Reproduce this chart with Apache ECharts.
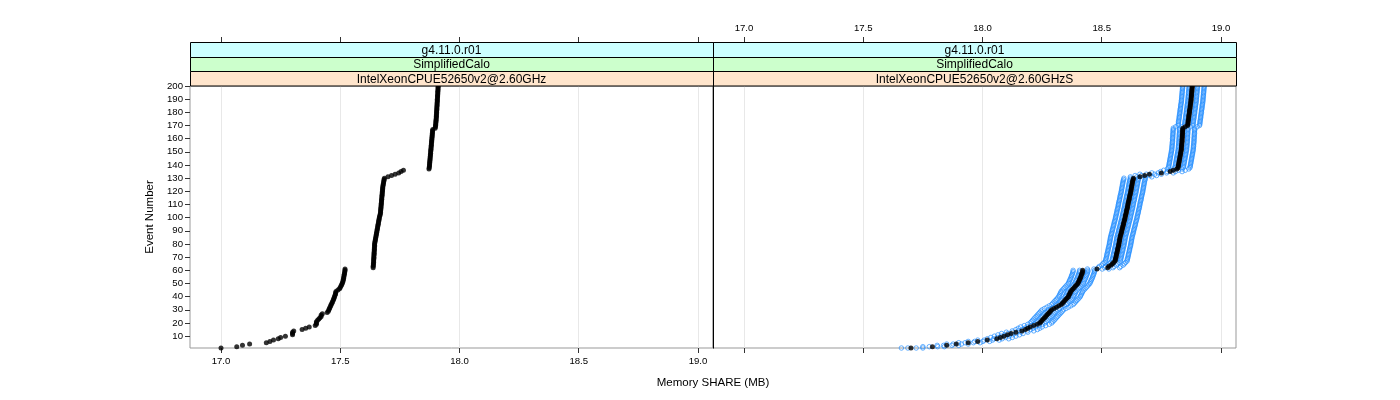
<!DOCTYPE html>
<html><head><meta charset="utf-8">
<script src="https://cdn.jsdelivr.net/npm/echarts@6/dist/echarts.min.js"></script>
<style>html,body{margin:0;padding:0;background:#fff}#c{width:1400px;height:400px}</style>
</head><body><div id="c"></div>
<script>
// ---- data ----
const xTicks = [17.0, 17.5, 18.0, 18.5, 19.0];
const yTicks = [10, 20, 30, 40, 50, 60, 70, 80, 90, 100, 110, 120, 130, 140, 150, 160, 170, 180, 190, 200];
const stripTop = 'g4.11.0.r01';
const stripMid = 'SimplifiedCalo';
const panelHosts = ['IntelXeonCPUE52650v2@2.60GHz', 'IntelXeonCPUE52650v2@2.60GHzS'];

// Memory SHARE (MB) per event (event number = position + 1)
const leftShare = [
17.000,17.066,17.090,17.120,17.190,17.205,17.220,17.240,17.250,17.270,17.300,17.300,17.300,17.305,17.340,17.355,17.370,17.395,17.400,17.400,
17.400,17.405,17.410,17.415,17.420,17.420,17.425,17.445,17.450,17.452,17.455,17.457,17.460,17.462,17.465,17.467,17.470,17.472,17.474,17.476,
17.478,17.480,17.481,17.482,17.490,17.497,17.500,17.503,17.506,17.508,17.510,17.512,17.513,17.514,17.515,17.516,17.517,17.518,17.519,17.520,
17.520,17.638,17.638,17.639,17.639,17.640,17.640,17.640,17.641,17.641,17.641,17.642,17.642,17.642,17.643,17.643,17.643,17.644,17.644,17.644,
17.645,17.646,17.647,17.648,17.649,17.650,17.651,17.652,17.653,17.654,17.655,17.656,17.657,17.658,17.659,17.660,17.661,17.662,17.663,17.664,
17.665,17.667,17.668,17.669,17.669,17.670,17.670,17.671,17.671,17.672,17.672,17.673,17.673,17.674,17.674,17.675,17.675,17.676,17.676,17.677,
17.677,17.678,17.678,17.679,17.680,17.681,17.682,17.683,17.684,17.685,17.700,17.715,17.730,17.745,17.755,17.765,17.872,17.873,17.874,17.874,
17.875,17.875,17.876,17.876,17.877,17.877,17.878,17.878,17.879,17.879,17.880,17.880,17.881,17.881,17.882,17.882,17.883,17.883,17.884,17.884,
17.885,17.885,17.886,17.886,17.887,17.887,17.888,17.898,17.899,17.900,17.900,17.901,17.901,17.902,17.902,17.903,17.903,17.903,17.904,17.904,
17.904,17.905,17.905,17.905,17.906,17.906,17.906,17.907,17.907,17.907,17.908,17.908,17.908,17.909,17.909,17.909,17.910,17.910,17.910,17.911];

const rightShare = [
17.700,17.790,17.850,17.890,17.940,17.980,18.020,18.060,18.075,18.090,18.105,18.120,18.140,18.165,18.180,18.190,18.200,18.215,18.230,18.240,
18.245,18.250,18.255,18.260,18.265,18.270,18.275,18.280,18.285,18.290,18.300,18.310,18.320,18.330,18.335,18.340,18.345,18.350,18.355,18.360,
18.362,18.365,18.368,18.370,18.375,18.380,18.385,18.390,18.395,18.400,18.402,18.405,18.407,18.410,18.412,18.414,18.416,18.418,18.420,18.420,
18.480,18.525,18.530,18.540,18.545,18.550,18.556,18.557,18.558,18.560,18.561,18.562,18.563,18.565,18.566,18.567,18.568,18.570,18.571,18.572,
18.573,18.574,18.575,18.576,18.577,18.578,18.580,18.581,18.583,18.584,18.585,18.587,18.588,18.590,18.591,18.592,18.594,18.595,18.597,18.598,
18.599,18.600,18.602,18.603,18.604,18.605,18.607,18.608,18.609,18.610,18.611,18.612,18.614,18.615,18.616,18.617,18.618,18.620,18.621,18.622,
18.623,18.624,18.625,18.626,18.627,18.628,18.629,18.630,18.632,18.633,18.660,18.680,18.700,18.750,18.787,18.800,18.815,18.820,18.821,18.822,
18.823,18.824,18.825,18.826,18.827,18.828,18.829,18.830,18.831,18.832,18.833,18.834,18.834,18.835,18.835,18.836,18.836,18.837,18.837,18.837,
18.838,18.838,18.838,18.839,18.839,18.839,18.840,18.840,18.850,18.860,18.861,18.862,18.862,18.863,18.864,18.865,18.865,18.866,18.867,18.868,
18.868,18.869,18.870,18.871,18.871,18.872,18.873,18.874,18.874,18.875,18.875,18.876,18.876,18.877,18.877,18.878,18.878,18.879,18.879,18.880];

// repeated runs (blue open circles)
const runA = [
17.660,17.750,17.810,17.850,17.900,17.940,17.980,18.020,18.035,18.050,18.065,18.080,18.100,18.125,18.140,18.150,18.160,18.175,18.190,18.200,
18.205,18.210,18.215,18.220,18.225,18.230,18.235,18.240,18.245,18.250,18.260,18.270,18.280,18.290,18.295,18.300,18.305,18.310,18.315,18.320,
18.322,18.325,18.328,18.330,18.335,18.340,18.345,18.350,18.355,18.360,18.362,18.365,18.367,18.370,18.372,18.374,18.376,18.378,18.380,18.380,
18.440,18.485,18.490,18.500,18.505,18.510,18.516,18.517,18.518,18.520,18.521,18.522,18.523,18.525,18.526,18.527,18.528,18.530,18.531,18.532,
18.533,18.534,18.535,18.536,18.537,18.538,18.540,18.541,18.543,18.544,18.545,18.547,18.548,18.550,18.551,18.552,18.554,18.555,18.557,18.558,
18.559,18.560,18.562,18.563,18.564,18.565,18.567,18.568,18.569,18.570,18.571,18.572,18.574,18.575,18.576,18.577,18.578,18.580,18.581,18.582,
18.583,18.584,18.585,18.586,18.587,18.588,18.589,18.590,18.592,18.593,18.620,18.640,18.660,18.710,18.747,18.760,18.775,18.780,18.781,18.782,
18.783,18.784,18.785,18.786,18.787,18.788,18.789,18.790,18.791,18.792,18.793,18.794,18.794,18.795,18.795,18.796,18.796,18.797,18.797,18.797,
18.798,18.798,18.798,18.799,18.799,18.799,18.800,18.800,18.810,18.820,18.821,18.822,18.822,18.823,18.824,18.825,18.825,18.826,18.827,18.828,
18.828,18.829,18.830,18.831,18.831,18.832,18.833,18.834,18.834,18.835,18.835,18.836,18.836,18.837,18.837,18.838,18.838,18.839,18.839,18.840];

const runB = [
17.687,17.777,17.837,17.877,17.927,17.967,18.007,18.047,18.062,18.077,18.092,18.107,18.127,18.152,18.167,18.177,18.187,18.202,18.217,18.227,
18.232,18.237,18.242,18.247,18.252,18.257,18.262,18.267,18.272,18.277,18.287,18.297,18.307,18.317,18.322,18.327,18.332,18.337,18.342,18.347,
18.349,18.352,18.355,18.357,18.362,18.367,18.372,18.377,18.382,18.387,18.389,18.392,18.394,18.397,18.399,18.401,18.403,18.405,18.407,18.407,
18.467,18.512,18.517,18.527,18.532,18.537,18.543,18.544,18.545,18.547,18.548,18.549,18.550,18.552,18.553,18.554,18.555,18.557,18.558,18.559,
18.560,18.561,18.562,18.563,18.564,18.565,18.567,18.568,18.570,18.571,18.572,18.574,18.575,18.577,18.578,18.579,18.581,18.582,18.584,18.585,
18.586,18.587,18.589,18.590,18.591,18.592,18.594,18.595,18.596,18.597,18.598,18.599,18.601,18.602,18.603,18.604,18.605,18.607,18.608,18.609,
18.610,18.611,18.612,18.613,18.614,18.615,18.616,18.617,18.619,18.620,18.647,18.667,18.687,18.737,18.774,18.787,18.802,18.807,18.808,18.809,
18.810,18.811,18.812,18.813,18.814,18.815,18.816,18.817,18.818,18.819,18.820,18.821,18.821,18.822,18.822,18.823,18.823,18.824,18.824,18.824,
18.825,18.825,18.825,18.826,18.826,18.826,18.827,18.827,18.837,18.847,18.848,18.849,18.849,18.850,18.851,18.852,18.852,18.853,18.854,18.855,
18.855,18.856,18.857,18.858,18.858,18.859,18.860,18.861,18.861,18.862,18.862,18.863,18.863,18.864,18.864,18.865,18.865,18.866,18.866,18.867];

const runC = [
17.722,17.812,17.872,17.912,17.962,18.002,18.042,18.082,18.097,18.112,18.127,18.142,18.162,18.187,18.202,18.212,18.222,18.237,18.252,18.262,
18.267,18.272,18.277,18.282,18.287,18.292,18.297,18.302,18.307,18.312,18.322,18.332,18.342,18.352,18.357,18.362,18.367,18.372,18.377,18.382,
18.384,18.387,18.390,18.392,18.397,18.402,18.407,18.412,18.417,18.422,18.424,18.427,18.429,18.432,18.434,18.436,18.438,18.440,18.442,18.442,
18.502,18.547,18.552,18.562,18.567,18.572,18.578,18.579,18.580,18.582,18.583,18.584,18.585,18.587,18.588,18.589,18.590,18.592,18.593,18.594,
18.595,18.596,18.597,18.598,18.599,18.600,18.602,18.603,18.605,18.606,18.607,18.609,18.610,18.612,18.613,18.614,18.616,18.617,18.619,18.620,
18.621,18.622,18.624,18.625,18.626,18.627,18.629,18.630,18.631,18.632,18.633,18.634,18.636,18.637,18.638,18.639,18.640,18.642,18.643,18.644,
18.645,18.646,18.647,18.648,18.649,18.650,18.651,18.652,18.654,18.655,18.682,18.702,18.722,18.772,18.809,18.822,18.837,18.842,18.843,18.844,
18.845,18.846,18.847,18.848,18.849,18.850,18.851,18.852,18.853,18.854,18.855,18.856,18.856,18.857,18.857,18.858,18.858,18.859,18.859,18.859,
18.860,18.860,18.860,18.861,18.861,18.861,18.862,18.862,18.872,18.882,18.883,18.884,18.884,18.885,18.886,18.887,18.887,18.888,18.889,18.890,
18.890,18.891,18.892,18.893,18.893,18.894,18.895,18.896,18.896,18.897,18.897,18.898,18.898,18.899,18.899,18.900,18.900,18.901,18.901,18.902];

const runD = [
17.750,17.840,17.900,17.940,17.990,18.030,18.070,18.110,18.125,18.140,18.155,18.170,18.190,18.215,18.230,18.240,18.250,18.265,18.280,18.290,
18.295,18.300,18.305,18.310,18.315,18.320,18.325,18.330,18.335,18.340,18.350,18.360,18.370,18.380,18.385,18.390,18.395,18.400,18.405,18.410,
18.412,18.415,18.418,18.420,18.425,18.430,18.435,18.440,18.445,18.450,18.452,18.455,18.457,18.460,18.462,18.464,18.466,18.468,18.470,18.470,
18.530,18.575,18.580,18.590,18.595,18.600,18.606,18.607,18.608,18.610,18.611,18.612,18.613,18.615,18.616,18.617,18.618,18.620,18.621,18.622,
18.623,18.624,18.625,18.626,18.627,18.628,18.630,18.631,18.633,18.634,18.635,18.637,18.638,18.640,18.641,18.642,18.644,18.645,18.647,18.648,
18.649,18.650,18.652,18.653,18.654,18.655,18.657,18.658,18.659,18.660,18.661,18.662,18.664,18.665,18.666,18.667,18.668,18.670,18.671,18.672,
18.673,18.674,18.675,18.676,18.677,18.678,18.679,18.680,18.682,18.683,18.710,18.730,18.750,18.800,18.837,18.850,18.865,18.870,18.871,18.872,
18.873,18.874,18.875,18.876,18.877,18.878,18.879,18.880,18.881,18.882,18.883,18.884,18.884,18.885,18.885,18.886,18.886,18.887,18.887,18.887,
18.888,18.888,18.888,18.889,18.889,18.889,18.890,18.890,18.900,18.910,18.911,18.912,18.912,18.913,18.914,18.915,18.915,18.916,18.917,18.918,
18.918,18.919,18.920,18.921,18.921,18.922,18.923,18.924,18.924,18.925,18.925,18.926,18.926,18.927,18.927,18.928,18.928,18.929,18.929,18.930];

// ---- build ----
const pairs = arr => arr.map((v, i) => [v, i + 1]);
const FONT = 'Liberation Sans';
const XMIN = 16.87, XMAX = 19.063;
const G = [{left: 190, top: 86, width: 523, height: 262}, {left: 713, top: 86, width: 523, height: 262}];
const TICKC = '#333', BORDER = '#999';

function xAxisCfg(grid, pos, labels) {
  return {
    type: 'value', gridIndex: grid, position: pos, min: XMIN, max: XMAX,
    offset: pos === 'top' ? 44 : 0,
    axisLine: {show: false},
    axisTick: {show: true, customValues: xTicks, length: 5, lineStyle: {color: TICKC}},
    axisLabel: {show: labels, customValues: xTicks, formatter: v => v.toFixed(1),
      fontSize: 9.6, color: '#000', fontFamily: FONT, margin: pos === 'top' ? 9 : 8},
    splitLine: {show: false}
  };
}
const gridLines = {silent: true, symbol: 'none', z: 1, animation: false,
  label: {show: false}, lineStyle: {color: '#e8e8e8', width: 1, type: 'solid'},
  data: xTicks.map(v => ({xAxis: v}))};

const graphics = [];
const stripRows = [
  {y: 42.5, h: 15, fill: '#ccffff', text: () => stripTop},
  {y: 57.5, h: 14, fill: '#ccffcc', text: () => stripMid},
  {y: 71.5, h: 14.5, fill: '#ffe5cc', text: p => panelHosts[p]}
];
G.forEach((g, p) => {
  stripRows.forEach(r => {
    graphics.push({type: 'rect', shape: {x: g.left + 0.5, y: r.y, width: g.width, height: r.h},
      style: {fill: r.fill, stroke: '#000', lineWidth: 1}, z: 10});
    graphics.push({type: 'text', x: g.left + g.width / 2, y: r.y + r.h / 2 + 0.5,
      style: {text: r.text(p), fill: '#000', font: '12px ' + FONT, textAlign: 'center', textVerticalAlign: 'middle'}, z: 11});
  });
});
graphics.push({type: 'line', shape: {x1: 713.5, y1: 42.5, x2: 713.5, y2: 348.5},
  style: {stroke: '#000', lineWidth: 1}, z: 12});
graphics.push({type: 'text', x: 713, y: 383,
  style: {text: 'Memory SHARE (MB)', fill: '#000', font: '11.5px ' + FONT, textAlign: 'center', textVerticalAlign: 'middle'}});
graphics.push({type: 'text', x: 150, y: 217, rotation: Math.PI / 2,
  style: {text: 'Event Number', fill: '#000', font: '11.5px ' + FONT, textAlign: 'center', textVerticalAlign: 'middle'}});

const blueStyle = {color: 'rgba(0,0,0,0)', borderColor: '#1f8bff', borderWidth: 0.85};
const runs = [runA, runB, runC, runD];

const option = {
  animation: false,
  backgroundColor: '#fff',
  textStyle: {fontFamily: FONT},
  grid: G.map(g => Object.assign({show: true, borderColor: BORDER, borderWidth: 1, backgroundColor: '#fff'}, g)),
  xAxis: [xAxisCfg(0, 'bottom', true), xAxisCfg(0, 'top', false), xAxisCfg(1, 'bottom', false), xAxisCfg(1, 'top', true)],
  yAxis: [
    {type: 'value', gridIndex: 0, min: 1, max: 200, axisLine: {show: false},
      axisTick: {show: true, customValues: yTicks, length: 5, lineStyle: {color: TICKC}},
      axisLabel: {customValues: yTicks, fontSize: 9.6, color: '#000', fontFamily: FONT, margin: 7},
      splitLine: {show: false}},
    {type: 'value', gridIndex: 1, min: 1, max: 200, axisLine: {show: false}, axisTick: {show: false},
      axisLabel: {show: false}, splitLine: {show: false}}
  ],
  series: [
    {type: 'scatter', xAxisIndex: 0, yAxisIndex: 0, data: pairs(leftShare), symbol: 'circle', symbolSize: 5,
      itemStyle: {color: '#000'}, markLine: gridLines, silent: true, z: 3},
    ...runs.map(r => ({type: 'scatter', xAxisIndex: 2, yAxisIndex: 1, data: pairs(r), symbol: 'circle',
      symbolSize: 4.5, itemStyle: blueStyle, silent: true, z: 2})),
    {type: 'scatter', xAxisIndex: 2, yAxisIndex: 1, data: pairs(rightShare), symbol: 'circle', symbolSize: 5,
      itemStyle: {color: '#000'}, markLine: gridLines, silent: true, z: 3}
  ],
  graphic: graphics
};
echarts.init(document.getElementById('c'), null, {renderer: 'canvas'}).setOption(option);
</script></body></html>
